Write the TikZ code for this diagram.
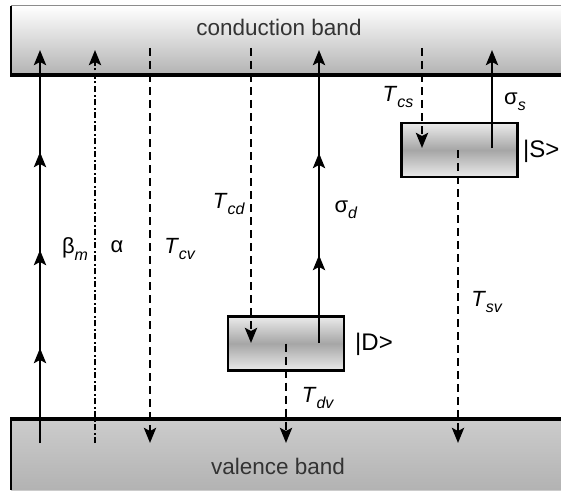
\documentclass[tikz,border=0pt]{standalone}
\usepackage{fontspec}
\setmainfont{Liberation Sans}
\usetikzlibrary{arrows.meta}
\newcommand{\lbl}[2]{#1\raisebox{-0.55ex}{\fontsize{16}{16}\selectfont\textit{#2}}}
\begin{document}
\begin{tikzpicture}[x=1pt,y=-1pt,
  tipend/.style={-{Stealth[length=15pt,width=12pt,inset=3pt]}},
  solidln/.style={line width=2.8pt, tipend},
  dashln/.style={line width=2.8pt, dash pattern=on 8pt off 5pt, tipend},
  dotdash/.style={line width=2.8pt, dash pattern=on 6pt off 2.5pt on 2pt off 2.5pt, tipend},
  statebox/.style={draw, line width=2.4pt, minimum width=116pt, minimum height=54pt, inner sep=0pt,
    top color=black!8, bottom color=black!8, middle color=black!35},
  lab/.style={font=\fontsize{22}{22}\selectfont, inner sep=0pt},
  ketlab/.style={font=\fontsize{24}{24}\selectfont, inner sep=0pt, anchor=west},
  bandlab/.style={font=\fontsize{22.5}{22.5}\selectfont, text=black!80, inner sep=0pt}]
\useasboundingbox (0,0) rectangle (561,492);
% conduction band
\shade[top color=white, middle color=white, bottom color=black!30] (11,6) rectangle (575,75);
\draw[black!45, line width=1pt] (11,6) -- (575,6);
\draw[line width=1.8pt] (11,6) -- (11,75);
\draw[line width=3.2pt] (10,75) -- (575,75);
% valence band
\shade[top color=black!20, middle color=black!34, bottom color=black!30] (11,419) rectangle (575,490);
\draw[black!20, line width=1pt] (11,490) -- (575,490);
\draw[line width=1.8pt] (11,419) -- (11,490);
\draw[line width=3.2pt] (10,419) -- (575,419);
\node[bandlab] (cbl) at (279,27) {conduction band};
\node[bandlab] (vbl) at (278,466) {valence band};
% states
\node[statebox] (D) at (286,343.5) {};
\node[statebox] (S) at (459.5,150) {};
% coordinates
\coordinate (bmB) at (40,443);   \coordinate (bmT) at (40,50);
\coordinate (bm1) at (40,152);   \coordinate (bm2) at (40,250);  \coordinate (bm3) at (40,348);
\coordinate (alB) at (95,443);   \coordinate (alT) at (95,50);
\coordinate (cvT) at (150,48);   \coordinate (cvB) at (150,443);
\coordinate (cdT) at (251,48);   \coordinate (cdB) at (251,343);
\coordinate (sdB) at (319,343);  \coordinate (sdT) at (319,50);
\coordinate (sd1) at (319,153);  \coordinate (sd2) at (319,255);
\coordinate (dvB) at (286,443);
\coordinate (csT) at (422,48);   \coordinate (csB) at (422,148);
\coordinate (ssB) at (492,148);  \coordinate (ssT) at (492,50);
\coordinate (svT) at (458,150);  \coordinate (svB) at (458,443);
% transitions
\draw[solidln] (bmB) -- (bmT);
\foreach \c in {bm1,bm2,bm3} \draw[solidln] ([yshift=-17pt]\c) -- (\c);
\draw[dotdash] (alB) -- (alT);
\draw[dashln] (cvT) -- (cvB);
\draw[dashln] (cdT) -- (cdB);
\draw[solidln] (sdB) -- (sdT);
\foreach \c in {sd1,sd2} \draw[solidln] ([yshift=-17pt]\c) -- (\c);
\draw[dashln] (D.center) -- (dvB);
\draw[dashln] (csT) -- (csB);
\draw[solidln] (ssB) -- (ssT);
\draw[dashln] (svT) -- (svB);
% labels
\node[lab] (lbm) at (75,249) {\lbl{β}{m}};
\node[lab] (lal) at (117,247) {α};
\node[lab] (lcv) at (180,249) {\lbl{\textit{T}}{cv}};
\node[lab] (lcd) at (229,204) {\lbl{\textit{T}}{cd}};
\node[lab] (lsd) at (346,210) {\lbl{σ}{d}};
\node[lab] (lcs) at (398,97) {\lbl{\textit{T}}{cs}};
\node[lab] (lss) at (515,102) {\lbl{σ}{s}};
\node[lab] (ldv) at (318,398) {\lbl{\textit{T}}{dv}};
\node[lab] (lsv) at (487,302) {\lbl{\textit{T}}{sv}};
\node[ketlab] (kD) at (355,344) {|D>};
\node[ketlab] (kS) at (523,151) {|S>};
\end{tikzpicture}
\end{document}
